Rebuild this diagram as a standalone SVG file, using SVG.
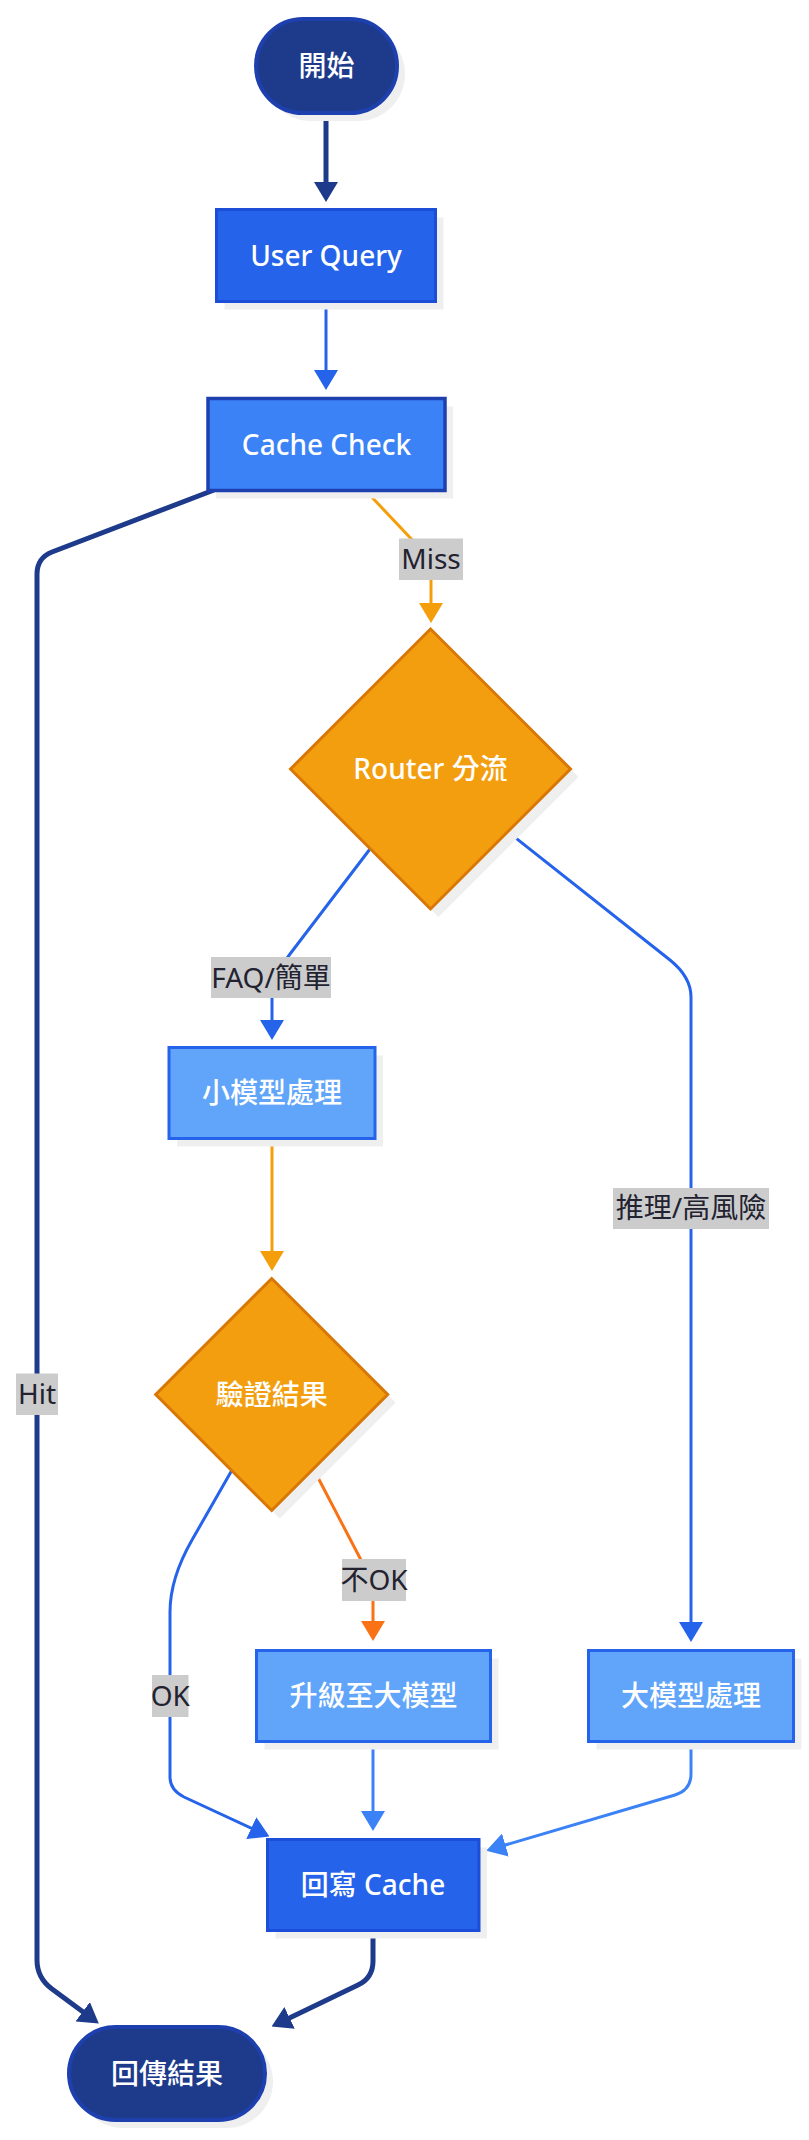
<svg xmlns="http://www.w3.org/2000/svg" width="809" height="2140" viewBox="0 0 809 2140">
<style>
text{font-family:"Noto Sans","Noto Sans CJK TC",sans-serif;font-size:28px;text-anchor:middle}
.nt{fill:#ffffff;font-weight:500}
.lt{fill:#222230;font-weight:400}
.lb{fill:#cccccc}
.sh{fill:#efefef}
.term{fill:#1e3a8a;stroke:#1e40af;stroke-width:4}
.uq{fill:#2563eb;stroke:#1d4ed8;stroke-width:3}
.cc{fill:#3b82f6;stroke:#1e40af;stroke-width:3.5}
.dec{fill:#f39e0e;stroke:#d97706;stroke-width:3}
.proc{fill:#60a5fa;stroke:#2563eb;stroke-width:3}
.e{fill:none;stroke-linejoin:round}
.navy{stroke:#1e3a8a;stroke-width:5}
.blue{stroke:#2563eb;stroke-width:3}
.lblue{stroke:#3b82f6;stroke-width:3}
.amber{stroke:#f59e0b;stroke-width:3}
.orng{stroke:#f97316;stroke-width:3}
</style>
<defs>
<marker id="mNavy" markerUnits="userSpaceOnUse" viewBox="0 0 20 24" refX="14" refY="12" markerWidth="20" markerHeight="24" orient="auto"><path d="M0,0 L20,12 L0,24 z" fill="#1e3a8a"/></marker>
<marker id="mBlue" markerUnits="userSpaceOnUse" viewBox="0 0 20 24" refX="14" refY="12" markerWidth="20" markerHeight="24" orient="auto"><path d="M0,0 L20,12 L0,24 z" fill="#2563eb"/></marker>
<marker id="mLBlue" markerUnits="userSpaceOnUse" viewBox="0 0 20 24" refX="14" refY="12" markerWidth="20" markerHeight="24" orient="auto"><path d="M0,0 L20,12 L0,24 z" fill="#3b82f6"/></marker>
<marker id="mAmber" markerUnits="userSpaceOnUse" viewBox="0 0 20 24" refX="14" refY="12" markerWidth="20" markerHeight="24" orient="auto"><path d="M0,0 L20,12 L0,24 z" fill="#f59e0b"/></marker>
<marker id="mOrng" markerUnits="userSpaceOnUse" viewBox="0 0 20 24" refX="14" refY="12" markerWidth="20" markerHeight="24" orient="auto"><path d="M0,0 L20,12 L0,24 z" fill="#f97316"/></marker>
</defs>
<rect width="809" height="2140" fill="#ffffff"/>

<g id="edges">
<path class="e navy" d="M326,114 L326,196" marker-end="url(#mNavy)"/>
<path class="e blue" d="M326,302 L326,384" marker-end="url(#mBlue)"/>
<path class="e amber" d="M366,491 L418,546 Q431,560 431,578 L431,617" marker-end="url(#mAmber)"/>
<path class="e navy" d="M214,490 L52,552 Q37,558 37,574 L37,1960 Q37,1978 52,1989 L94,2020" marker-end="url(#mNavy)"/>
<path class="e blue" d="M370,849 L290,954 Q272,978 272,998 L272,1034" marker-end="url(#mBlue)"/>
<path class="e blue" d="M507,831 L670,960 Q691,977 691,997 L691,1636" marker-end="url(#mBlue)"/>
<path class="e amber" d="M272,1139 L272,1265" marker-end="url(#mAmber)"/>
<path class="e blue" d="M232,1470 L192,1540 C176,1568 170,1590 170,1612 L170,1777 Q170,1790 184,1797 L264,1834" marker-end="url(#mBlue)"/>
<path class="e orng" d="M313,1468 L361,1560 Q373,1580 373,1600 L373,1635" marker-end="url(#mOrng)"/>
<path class="e lblue" d="M373,1742 L373,1825" marker-end="url(#mLBlue)"/>
<path class="e lblue" d="M691,1742 L691,1774 Q691,1790 675,1795 L492,1849" marker-end="url(#mLBlue)"/>
<path class="e navy" d="M373,1931 L373,1961 Q373,1978 358,1985 L277,2024" marker-end="url(#mNavy)"/>
</g>

<g id="edge-labels">
<g id="lbl-miss"><rect class="lb" x="399" y="538.5" width="64" height="41.5"/><text class="lt" x="431" y="569">Miss</text></g>
<g id="lbl-hit"><rect class="lb" x="16" y="1373.5" width="42" height="41.5"/><text class="lt" x="37" y="1404">Hit</text></g>
<g id="lbl-faq"><rect class="lb" x="211" y="957" width="120" height="41"/><text class="lt" x="271" y="987.5">FAQ/簡單</text></g>
<g id="lbl-reason"><rect class="lb" x="613" y="1188" width="156" height="41"/><text class="lt" x="691" y="1218">推理/高風險</text></g>
<g id="lbl-notok"><rect class="lb" x="342" y="1559" width="64" height="42"/><text class="lt" x="374" y="1590">不OK</text></g>
<g id="lbl-ok"><rect class="lb" x="152" y="1675" width="36.5" height="42"/><text class="lt" x="170.3" y="1706">OK</text></g>
</g>

<g id="n-start">
<rect class="sh" x="264" y="27" width="141" height="94" rx="47"/>
<rect class="term" x="256" y="19" width="141" height="94" rx="47"/>
<text class="nt" x="326.5" y="76">開始</text>
</g>
<g id="n-userquery">
<rect class="sh" x="224.5" y="217.5" width="219" height="92"/>
<rect class="uq" x="216.5" y="209.5" width="219" height="92"/>
<text class="nt" x="326" y="265.5">User Query</text>
</g>
<g id="n-cachecheck">
<rect class="sh" x="216" y="406.5" width="237" height="92"/>
<rect class="cc" x="208" y="398.5" width="237" height="92"/>
<text class="nt" x="326.5" y="454.5">Cache Check</text>
</g>
<g id="n-router">
<polygon class="sh" points="438.5,637 578.5,777 438.5,917 298.5,777"/>
<polygon class="dec" points="430.5,629 570.5,769 430.5,909 290.5,769"/>
<text class="nt" x="430.5" y="779">Router 分流</text>
</g>
<g id="n-small">
<rect class="sh" x="177" y="1055.5" width="206" height="91"/>
<rect class="proc" x="169" y="1047.5" width="206" height="91"/>
<text class="nt" x="272" y="1103">小模型處理</text>
</g>
<g id="n-verify">
<polygon class="sh" points="279.7,1286.5 395.7,1402.5 279.7,1518.5 163.7,1402.5"/>
<polygon class="dec" points="271.7,1278.5 387.7,1394.5 271.7,1510.5 155.7,1394.5"/>
<text class="nt" x="271.7" y="1404.5">驗證結果</text>
</g>
<g id="n-upgrade">
<rect class="sh" x="264.5" y="1658.5" width="234" height="91"/>
<rect class="proc" x="256.5" y="1650.5" width="234" height="91"/>
<text class="nt" x="373.5" y="1706">升級至大模型</text>
</g>
<g id="n-large">
<rect class="sh" x="596.5" y="1658.5" width="205" height="91"/>
<rect class="proc" x="588.5" y="1650.5" width="205" height="91"/>
<text class="nt" x="691" y="1706">大模型處理</text>
</g>
<g id="n-writeback">
<rect class="sh" x="275.5" y="1847.5" width="211.5" height="91"/>
<rect class="uq" x="267.5" y="1839.5" width="211.5" height="91"/>
<text class="nt" x="373" y="1895">回寫 Cache</text>
</g>
<g id="n-return">
<rect class="sh" x="77" y="2035" width="196" height="93" rx="46.5"/>
<rect class="term" x="69" y="2027" width="196" height="93" rx="46.5"/>
<text class="nt" x="167" y="2083.5">回傳結果</text>
</g>
</svg>
